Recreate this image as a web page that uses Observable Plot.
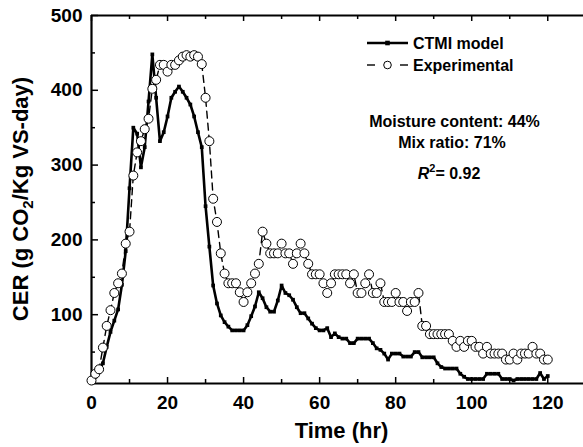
<!DOCTYPE html>
<html><head><meta charset="utf-8">
<script src="https://cdn.jsdelivr.net/npm/d3@7"></script>
<script src="https://cdn.jsdelivr.net/npm/@observablehq/plot@0.6"></script>
<style>
body{margin:0;background:#fff;}
#chart{width:583px;height:447px;overflow:hidden;}
</style></head><body><div id="chart"></div>
<script>
// ---- data ----
const expTime = d3.range(0, 121);
const expCER = [12,21,27,56,85,106,129,142,155,195,211,286,317,332,348,362,402,414,434,434,
  425,434,434,440,445,447,445,447,445,435,390,332,255,224,182,155,142,142,142,130,
  117,130,142,155,168,211,195,182,182,182,195,182,182,168,182,195,182,168,154,154,
  154,142,129,142,154,154,154,154,142,154,129,129,142,154,129,129,142,117,117,117,
  129,117,117,105,117,117,129,85,85,74,74,74,74,74,74,65,57,65,57,65,
  65,57,57,48,57,48,48,48,48,40,40,48,40,48,48,48,57,48,48,40,40];
const modelTime = d3.range(0, 121);
const modelCER = [10,17,26,35,57,77,92,107,140,185,269,350,342,297,324,385,448,390,332,344,
  365,390,398,405,398,390,381,365,344,324,245,191,139,115,99,90,84,79,79,79,
  79,86,98,111,130,122,110,104,104,119,139,129,126,120,110,102,102,95,88,82,
  79,79,82,70,75,70,68,68,62,62,68,68,68,68,62,55,53,48,40,48,
  48,48,44,44,44,50,50,43,43,43,43,35,30,28,28,28,28,21,17,14,
  14,14,14,14,21,21,21,21,14,14,14,12,14,14,14,14,14,14,22,14,18];
const xTicks = [0,20,40,60,80,100,120];
const xMinorTicks = [10,30,50,70,90,110];
const yTicks = [100,200,300,400,500];
const yMinorTicks = [50,150,250,350,450];
const xDomain = [0, 129.4];
const yDomain = [8, 500];
const seriesNames = ["CTMI model", "Experimental"];
const notes = ["Moisture content: 44%", "Mix ratio: 71%"];
const r2Value = "0.92";
const xTitle = "Time (hr)";

const exp = expTime.map((t, i) => ({t, v: expCER[i]}));
const model = modelTime.map((t, i) => ({t, v: modelCER[i]}));

const font = "'Liberation Sans', Arial, Helvetica, sans-serif";
const W = 583, H = 447;
const mT = 15, mR = 0, mB = 64, mL = 91;
const pw = W - mL - mR, ph = H - mT - mB;
const tk = {stroke: "#000", strokeWidth: 1.5};
const plot = Plot.plot({
  width: W, height: H,
  marginTop: mT, marginRight: mR, marginBottom: mB, marginLeft: mL,
  x: {domain: xDomain},
  y: {domain: yDomain},
  style: `font-family:${font};font-size:19px;font-weight:bold;color:#000;background:#fff;overflow:visible;`,
  marks: [
    Plot.axisX(xTicks, {anchor: "bottom", tickSize: 0, tickPadding: 12, label: null}),
    Plot.axisY(yTicks, {anchor: "left", tickSize: 0, tickPadding: 9, label: null}),
    // inward ticks
    Plot.tickX(xTicks, {x: d => d, insetTop: ph - 6, ...tk}),
    Plot.tickX(xMinorTicks, {x: d => d, insetTop: ph - 4, ...tk}),
    Plot.tickX(xTicks, {x: d => d, insetBottom: ph - 6, ...tk}),
    Plot.tickX(xMinorTicks, {x: d => d, insetBottom: ph - 4, ...tk}),
    Plot.tickY(yTicks, {y: d => d, insetRight: pw - 7, ...tk}),
    Plot.tickY(yMinorTicks, {y: d => d, insetRight: pw - 4, ...tk}),
    Plot.ruleX([xDomain[0]], {stroke: "#000", strokeWidth: 2.2}),
    Plot.ruleY([yDomain[0]], {stroke: "#000", strokeWidth: 2.2}),
    Plot.ruleY([yDomain[1]], {stroke: "#000", strokeWidth: 2.2}),
    Plot.line(exp, {x: "t", y: "v", stroke: "#000", strokeWidth: 1.4, strokeDasharray: "7,5"}),
    Plot.line(model, {x: "t", y: "v", stroke: "#000", strokeWidth: 2.6}),
    Plot.dot(model, {x: "t", y: "v", symbol: "square", r: 2.1, fill: "#000", stroke: "none"}),
    Plot.dot(exp, {x: "t", y: "v", r: 4.5, fill: "#fff", stroke: "#000", strokeWidth: 1})
  ]
});
document.getElementById("chart").appendChild(plot);

// ---- titles, legend, annotations ----
const svg = d3.select(plot);
const g = svg.append("g").attr("font-family", font).attr("font-weight", "bold")
  .attr("fill", "#000").attr("text-anchor", "start");

// x title
g.append("text").attr("x", 341.5).attr("y", 438).attr("text-anchor", "middle")
  .attr("font-size", 22).text(xTitle);
// y title with subscript
const yt = g.append("text").attr("transform", "translate(28,199) rotate(-90)")
  .attr("text-anchor", "middle").attr("font-size", 22);
yt.append("tspan").text("CER (g CO");
yt.append("tspan").attr("font-size", 15).attr("dy", 5).text("2");
yt.append("tspan").attr("dy", -5).text("/Kg VS-day)");

// legend
const lx0 = 367, lx1 = 408, lxm = 387.5, textX = 413;
const row1 = 43, row2 = 65;
g.append("line").attr("x1", lx0).attr("x2", lx1).attr("y1", row1).attr("y2", row1)
  .attr("stroke", "#000").attr("stroke-width", 2.6);
g.append("rect").attr("x", lxm - 2.3).attr("y", row1 - 2.3).attr("width", 4.6).attr("height", 4.6).attr("fill", "#000");
g.append("text").attr("x", textX).attr("y", row1).attr("dy", "0.35em").attr("font-size", 16).text(seriesNames[0]);
g.append("line").attr("x1", lx0).attr("x2", lx0 + 8).attr("y1", row2).attr("y2", row2)
  .attr("stroke", "#000").attr("stroke-width", 1.4);
g.append("line").attr("x1", lx1 - 8).attr("x2", lx1).attr("y1", row2).attr("y2", row2)
  .attr("stroke", "#000").attr("stroke-width", 1.4);
g.append("circle").attr("cx", lxm).attr("cy", row2).attr("r", 3.8).attr("fill", "#fff").attr("stroke", "#000");
g.append("text").attr("x", textX).attr("y", row2).attr("dy", "0.35em").attr("font-size", 16).text(seriesNames[1]);

// notes
g.append("text").attr("x", 454.5).attr("y", 121).attr("dy", "0.35em").attr("text-anchor", "middle")
  .attr("font-size", 16).text(notes[0]);
g.append("text").attr("x", 452).attr("y", 142).attr("dy", "0.35em").attr("text-anchor", "middle")
  .attr("font-size", 16).text(notes[1]);
const rt = g.append("text").attr("x", 449).attr("y", 173.5).attr("dy", "0.35em").attr("text-anchor", "middle")
  .attr("font-size", 16);
rt.append("tspan").attr("font-style", "italic").text("R");
rt.append("tspan").attr("font-size", 11).attr("dy", -7).text("2");
rt.append("tspan").attr("dy", 7).text("= " + r2Value);
</script>
</body></html>
